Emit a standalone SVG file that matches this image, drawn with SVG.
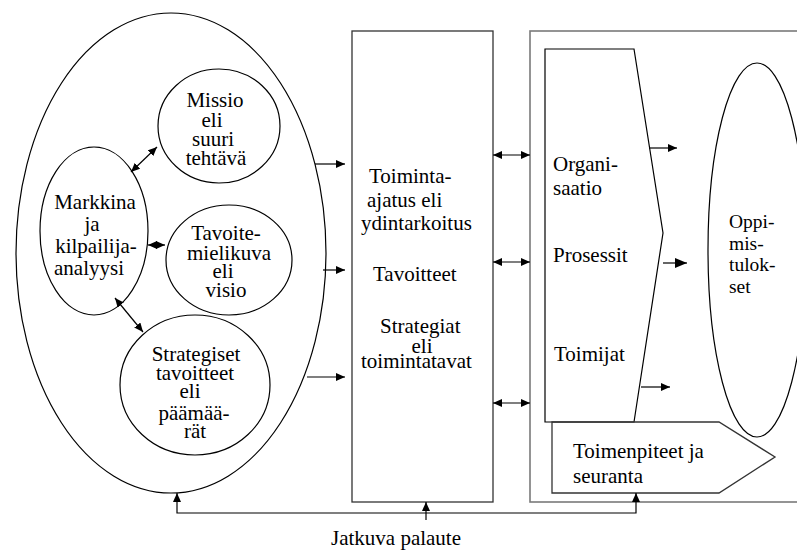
<svg xmlns="http://www.w3.org/2000/svg" width="797" height="552" viewBox="0 0 797 552" font-family="'Liberation Serif', 'Times New Roman', Times, serif">
  <style>
    .shape { fill: none; stroke: #000; stroke-width: 1.2; }
    .frame { fill: none; stroke: #7a7a7a; stroke-width: 1.6; }
    .box { fill: none; stroke: #333; stroke-width: 1.3; }
    .conn { fill: none; stroke: #000; stroke-width: 1.2; }
    text { font-family: "Liberation Serif", "Times New Roman", Times, serif; font-size: 21px; fill: #000; }
    .mid { text-anchor: middle; }
    .small { font-size: 19.5px; }
  </style>
  <defs>
    <marker id="arrow" markerUnits="userSpaceOnUse" markerWidth="10" markerHeight="8" refX="9" refY="4" orient="auto-start-reverse">
      <path d="M0,0 L9,4 L0,8 z" fill="#000"/>
    </marker>
    <marker id="arrowBig" markerUnits="userSpaceOnUse" markerWidth="13" markerHeight="10" refX="12" refY="5" orient="auto">
      <path d="M0,0 L12,5 L0,10 z" fill="#000"/>
    </marker>
  </defs>

  <!-- Strategic planning ellipse -->
  <g id="strategia">
    <ellipse class="shape" cx="171" cy="253" rx="155" ry="240"/>
  </g>

  <g id="missio">
    <ellipse class="shape" cx="219" cy="126" rx="61" ry="57"/>
    <text class="mid" x="215" y="107">Missio</text>
    <text class="mid" x="212" y="127">eli</text>
    <text class="mid" x="213" y="146">suuri</text>
    <text class="mid" x="216" y="165">tehtävä</text>
  </g>

  <g id="markkina">
    <ellipse class="shape" cx="94" cy="231" rx="54" ry="84"/>
    <text class="mid" x="95" y="209">Markkina</text>
    <text class="mid" x="92" y="231">ja</text>
    <text class="mid" x="96" y="253">kilpailija-</text>
    <text class="mid" x="89" y="275">analyysi</text>
  </g>

  <g id="tavoitemielikuva">
    <ellipse class="shape" cx="229" cy="260" rx="63" ry="55"/>
    <text class="mid" x="226" y="240">Tavoite-</text>
    <text class="mid" x="229" y="260">mielikuva</text>
    <text class="mid" x="223" y="278">eli</text>
    <text class="mid" x="226" y="297">visio</text>
  </g>

  <g id="strategiset">
    <ellipse class="shape" cx="195" cy="385" rx="75" ry="70"/>
    <text class="mid" x="196" y="361">Strategiset</text>
    <text class="mid" x="195" y="380">tavoitteet</text>
    <text class="mid" x="190" y="398">eli</text>
    <text class="mid" x="194" y="420">päämää-</text>
    <text class="mid" x="195" y="438">rät</text>
  </g>

  <!-- Core purpose column -->
  <g id="toimintaajatus">
    <rect class="box" x="352" y="31" width="141" height="471"/>
    <text x="369" y="183">Toiminta-</text>
    <text x="367" y="207">ajatus eli</text>
    <text x="361" y="230">ydintarkoitus</text>
    <text x="373" y="281">Tavoitteet</text>
    <text x="380" y="333">Strategiat</text>
    <text class="mid" x="422" y="353">eli</text>
    <text x="361" y="368">toimintatavat</text>
  </g>

  <!-- Implementation frame -->
  <g id="toteutus">
    <rect class="frame" x="530" y="31" width="280" height="471"/>
  </g>

  <g id="resurssit">
    <path class="shape" d="M545,49 L634,49 L663,233 L634,422 L545,422 Z"/>
    <text x="553" y="171">Organi-</text>
    <text x="553" y="195">saatio</text>
    <text x="553" y="262">Prosessit</text>
    <text x="554" y="361">Toimijat</text>
  </g>

  <g id="oppimistulokset">
    <ellipse class="shape" cx="757" cy="250" rx="49" ry="187"/>
    <text class="small" x="729" y="228">Oppi-</text>
    <text class="small" x="729" y="250">mis-</text>
    <text class="small" x="729" y="271">tulok-</text>
    <text class="small" x="729" y="293">set</text>
  </g>

  <g id="toimenpiteet">
    <path class="box" d="M552,422 L719,422 L775,457 L719,493 L552,493 Z"/>
    <text x="573" y="458">Toimenpiteet ja</text>
    <text x="573" y="483">seuranta</text>
  </g>

  <g id="palaute">
    <text x="331" y="545">Jatkuva palaute</text>
  </g>

  <!-- Connectors -->
  <g id="connectors">
    <line class="conn" x1="131" y1="172" x2="157" y2="147" marker-start="url(#arrow)" marker-end="url(#arrow)"/>
    <line class="conn" x1="148" y1="245" x2="165" y2="245" marker-start="url(#arrow)" marker-end="url(#arrow)"/>
    <line class="conn" x1="115" y1="298" x2="143" y2="332" marker-start="url(#arrow)" marker-end="url(#arrow)"/>

    <line class="conn" x1="315" y1="164" x2="345" y2="164" marker-end="url(#arrow)"/>
    <line class="conn" x1="323" y1="270" x2="345" y2="270" marker-end="url(#arrow)"/>
    <line class="conn" x1="307" y1="377" x2="345" y2="377" marker-end="url(#arrow)"/>

    <line class="conn" x1="493" y1="155" x2="530" y2="155" marker-start="url(#arrow)" marker-end="url(#arrow)"/>
    <line class="conn" x1="493" y1="262" x2="530" y2="262" marker-start="url(#arrow)" marker-end="url(#arrow)"/>
    <line class="conn" x1="493" y1="403" x2="530" y2="403" marker-start="url(#arrow)" marker-end="url(#arrow)"/>

    <line class="conn" x1="649" y1="148" x2="677" y2="148" marker-end="url(#arrow)"/>
    <line class="conn" x1="663" y1="263" x2="687" y2="263" marker-end="url(#arrowBig)"/>
    <line class="conn" x1="641" y1="387" x2="670" y2="387" marker-end="url(#arrow)"/>

    <polyline class="conn" points="177,493 177,513 636,513 636,493" marker-start="url(#arrow)" marker-end="url(#arrow)"/>
    <line class="conn" x1="426" y1="520" x2="426" y2="502" marker-end="url(#arrow)"/>
  </g>
</svg>
